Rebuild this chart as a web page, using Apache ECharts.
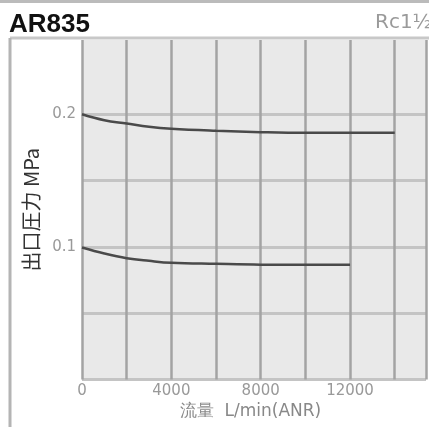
<!DOCTYPE html>
<html><head><meta charset="utf-8">
<script src="https://cdn.jsdelivr.net/npm/echarts@6/dist/echarts.min.js"></script>
<style>html,body{margin:0;padding:0;background:#fff}#c{width:429px;height:427px}</style>
</head><body><div id="c"></div>
<script>
const flowPoints = [0, 1000, 2000, 3000, 4000, 6000, 8000, 10000, 12000, 14000];
const set02 = [0.2, 0.1955, 0.193, 0.1905, 0.189, 0.1875, 0.1865, 0.186, 0.186, 0.186];
const set01 = [0.0995, 0.095, 0.0915, 0.0895, 0.088, 0.0872, 0.0866, 0.0865, 0.0865];
const xTickLabels = [0, 4000, 8000, 12000];
const yTickLabels = [0.1, 0.2];

const pair = (vals) => vals.map((v, i) => [flowPoints[i], v]);
const chart = echarts.init(document.getElementById('c'));
const font = 'DejaVu Sans, sans-serif';
chart.setOption({
  animation: false,
  backgroundColor: '#fff',
  graphic: [
    {type: 'line', shape: {x1: 0, y1: 1.5, x2: 429, y2: 1.5}, style: {stroke: '#bbb', lineWidth: 3}},
    {type: 'line', shape: {x1: 10, y1: 38, x2: 429, y2: 38}, style: {stroke: '#c8c8c8', lineWidth: 3}},
    {type: 'line', shape: {x1: 10, y1: 38, x2: 10, y2: 427}, style: {stroke: '#b4b4b4', lineWidth: 3}},
    {type: 'text', x: 9, y: 12, style: {text: 'AR835', font: 'bold 26px Liberation Sans', fill: '#111'}},
    {type: 'text', x: 375, y: 13, style: {text: 'Rc1½', font: '20px DejaVu Sans', fill: '#9a9a9a'}}
  ],
  grid: {left: 82, right: 0, top: 40, bottom: 47.5, show: true, backgroundColor: '#e9e9e9', borderWidth: 0},
  xAxis: {
    type: 'value', min: 0, max: 15400, interval: 2000,
    axisLine: {show: false}, axisTick: {show: false},
    splitLine: {show: true, lineStyle: {color: '#a3a3a3', width: 2.5}},
    axisLabel: {
      fontFamily: font, fontSize: 15, color: '#999', margin: 4,
      formatter: v => xTickLabels.includes(v) ? String(v) : ''
    },
    name: '流量  L/min(ANR)', nameLocation: 'middle', nameGap: 23,
    nameTextStyle: {fontFamily: font, fontSize: 17, color: '#888', padding: [0, 7, 0, 0]}
  },
  yAxis: {
    type: 'value', min: 0, max: 0.256, interval: 0.05,
    axisLine: {show: false}, axisTick: {show: false},
    splitLine: {show: true, lineStyle: {color: ['#c4c4c4','#c4c4c4','#c4c4c4','#c4c4c4','#c4c4c4','rgba(0,0,0,0)','rgba(0,0,0,0)'], width: 3}},
    axisLabel: {
      fontFamily: font, fontSize: 15, color: '#999', margin: 6,
      formatter: v => yTickLabels.some(t => Math.abs(t - v) < 1e-6) ? v.toFixed(1) : ''
    },
    name: '出口圧力 MPa', nameLocation: 'middle', nameGap: 40, nameRotate: 90,
    nameTextStyle: {fontFamily: 'Noto Sans CJK JP, Noto Sans, sans-serif', fontSize: 20, color: '#333'}
  },
  series: [
    {type: 'line', data: pair(set02), smooth: 0.4, showSymbol: false, lineStyle: {color: '#4a4a4a', width: 2.5}},
    {type: 'line', data: pair(set01), smooth: 0.4, showSymbol: false, lineStyle: {color: '#4a4a4a', width: 2.5}}
  ]
});
</script></body></html>
